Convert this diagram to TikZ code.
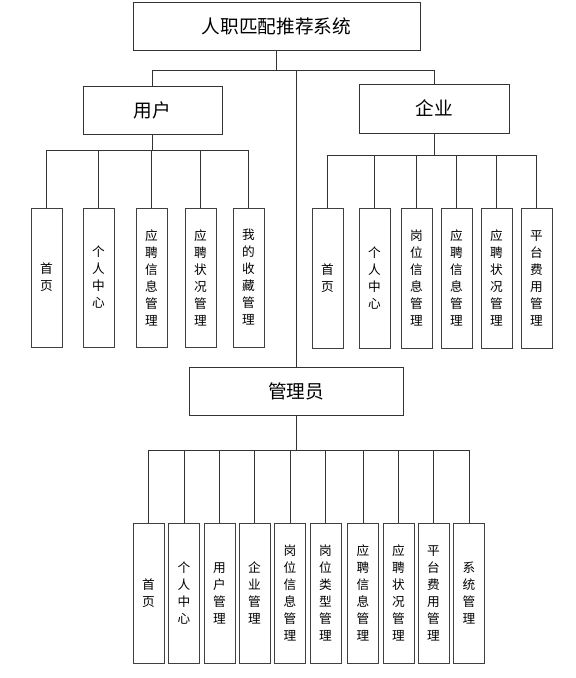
\documentclass[tikz,border=0pt]{standalone}
\usepackage{fontspec}
\newfontfamily\cjk{Noto Sans CJK SC}
\begin{document}
\begin{tikzpicture}[x=0.75pt,y=-0.75pt,
  line width=0.75pt,
  headbox/.style={draw=black!80, fill=white, inner sep=0pt, align=center,
    font=\cjk\fontsize{14}{16}\selectfont},
  leafbox/.style={draw=black!75, fill=white, inner sep=0pt, align=center,
    minimum width=31\pgflinewidth/0.75, text width=12pt,
    font=\cjk\fontsize{9.5}{12.75}\selectfont},
  link/.style={draw=black!80}]
\useasboundingbox (0,0) rectangle (575,678);
% heads
\node[headbox, minimum width=215.25pt, minimum height=36pt] (top) at (276.5,26) {人职匹配推荐系统};
\node[headbox, minimum width=104.25pt, minimum height=36pt] (user) at (152.5,110) {用户};
\node[headbox, minimum width=112.5pt, minimum height=36.75pt] (ent) at (434,108.5) {企业};
\node[headbox, minimum width=160.5pt, minimum height=36pt] (admin) at (296,391) {管理员};
% user leaves
\tikzset{uleaf/.style={leafbox, minimum width=23.25pt, minimum height=104.25pt}}
\node[uleaf] (u1) at (46.5,277.5) {首\\页};
\node[uleaf] (u2) at (98.5,277.5) {个\\人\\中\\心};
\node[uleaf] (u3) at (151.5,277.5) {应\\聘\\信\\息\\管\\理};
\node[uleaf] (u4) at (200.5,277.5) {应\\聘\\状\\况\\管\\理};
\node[uleaf] (u5) at (248.5,277.5) {我\\的\\收\\藏\\管\\理};
% enterprise leaves
\tikzset{eleaf/.style={leafbox, minimum width=23.25pt, minimum height=105pt}}
\node[eleaf] (e1) at (327.5,278) {首\\页};
\node[eleaf] (e2) at (374.5,278) {个\\人\\中\\心};
\node[eleaf] (e3) at (416.5,278) {岗\\位\\信\\息\\管\\理};
\node[eleaf] (e4) at (456.5,278) {应\\聘\\信\\息\\管\\理};
\node[eleaf] (e5) at (496.5,278) {应\\聘\\状\\况\\管\\理};
\node[eleaf] (e6) at (536.5,278) {平\\台\\费\\用\\管\\理};
% admin leaves
\tikzset{aleaf/.style={leafbox, minimum width=23.25pt, minimum height=105pt}}
\node[aleaf] (a1) at (148.5,593) {首\\页};
\node[aleaf] (a2) at (184,593) {个\\人\\中\\心};
\node[aleaf] (a3) at (219.5,593) {用\\户\\管\\理};
\node[aleaf] (a4) at (254.5,593) {企\\业\\管\\理};
\node[aleaf] (a5) at (290,593) {岗\\位\\信\\息\\管\\理};
\node[aleaf] (a6) at (325.5,593) {岗\\位\\类\\型\\管\\理};
\node[aleaf] (a7) at (363,593) {应\\聘\\信\\息\\管\\理};
\node[aleaf] (a8) at (398.5,593) {应\\聘\\状\\况\\管\\理};
\node[aleaf] (a9) at (433.5,593) {平\\台\\费\\用\\管\\理};
\node[aleaf] (a10) at (469,593) {系\\统\\管\\理};
% bus levels
\coordinate (b0) at (0,70);
\coordinate (bu) at (0,150);
\coordinate (be) at (0,155);
\coordinate (ba) at (0,450);
% top level
\draw[link] (top.south) -- (top.south |- b0);
\draw[link] (user.north) -- (user.north |- b0) -- (ent.north |- b0) -- (ent.north);
\draw[link] (admin.north) -- (admin.north |- b0);
% user
\draw[link] (user.south) -- (user.south |- bu);
\draw[link] (u1.north) -- (u1.north |- bu) -- (u5.north |- bu) -- (u5.north);
\foreach \i in {2,3,4} \draw[link] (u\i.north) -- (u\i.north |- bu);
% enterprise
\draw[link] (ent.south) -- (ent.south |- be);
\draw[link] (e1.north) -- (e1.north |- be) -- (e6.north |- be) -- (e6.north);
\foreach \i in {2,3,4,5} \draw[link] (e\i.north) -- (e\i.north |- be);
% admin
\draw[link] (admin.south) -- (admin.south |- ba);
\draw[link] (a1.north) -- (a1.north |- ba) -- (a10.north |- ba) -- (a10.north);
\foreach \i in {2,...,9} \draw[link] (a\i.north) -- (a\i.north |- ba);
\end{tikzpicture}
\end{document}
